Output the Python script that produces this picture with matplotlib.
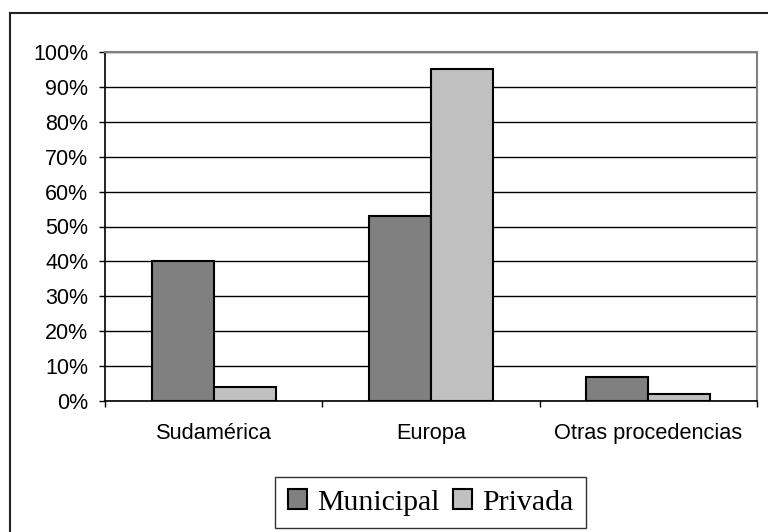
import numpy as np
import matplotlib.pyplot as plt
from matplotlib.lines import Line2D

# data
categorias = ['Sudamérica', 'Europa', 'Otras procedencias']
municipal = [40, 53, 7]
privada = [4, 95, 2]
yticks = np.arange(0, 101, 10)

fig = plt.figure(figsize=(7.68, 5.32), dpi=100)
ax = fig.add_axes([105/768, 1-401/532, (757-105)/768, (401-52)/532])

x = np.arange(len(categorias))
w = 0.285
ax.bar(x - w/2, municipal, w, color='#808080', edgecolor='black', linewidth=1.5, zorder=3, label='Municipal')
ax.bar(x + w/2, privada, w, color='#c0c0c0', edgecolor='black', linewidth=1.5, zorder=3, label='Privada')

ax.set_xlim(-0.5, len(categorias) - 0.5)
ax.set_ylim(0, 100)
ax.set_yticks(yticks)
ax.set_yticklabels([f'{v}%' for v in yticks], fontsize=15.5, family='Liberation Sans')
ax.set_xticks(x)
ax.set_xticklabels(categorias, fontsize=15.7, family='Liberation Sans')
ax.set_xticks(np.arange(-0.5, len(categorias)), minor=True)
ax.tick_params(axis='x', which='major', length=0, pad=16)
ax.tick_params(axis='x', which='minor', length=4, width=1, direction='out')
ax.tick_params(axis='y', length=4, width=1, pad=8)

ax.yaxis.grid(True, color='black', linewidth=1, zorder=0)
ax.set_axisbelow(True)
for s in ['top', 'right']:
    ax.spines[s].set_color('#808080')
    ax.spines[s].set_linewidth(1.5)
ax.spines['left'].set_linewidth(1.2)
ax.spines['bottom'].set_linewidth(1.2)

leg = fig.legend(loc='center', bbox_to_anchor=(430.5/768, 1-502.5/532), ncol=2,
                 prop={'family': 'Liberation Serif', 'size': 21.5},
                 frameon=True, fancybox=False, edgecolor='black',
                 handlelength=0.65, handleheight=0.65, handletextpad=0.33,
                 columnspacing=0.44, borderpad=0.42, borderaxespad=0)
leg.get_frame().set_linewidth(1)

# outer border (left and top only visible)
fig.add_artist(Line2D([10/768, 10/768], [0, 1-13/532], transform=fig.transFigure, color='#222222', linewidth=1.5))
fig.add_artist(Line2D([10/768, 1], [1-13/532, 1-13/532], transform=fig.transFigure, color='#222222', linewidth=1.5))

fig.savefig('out.png', dpi=100)
